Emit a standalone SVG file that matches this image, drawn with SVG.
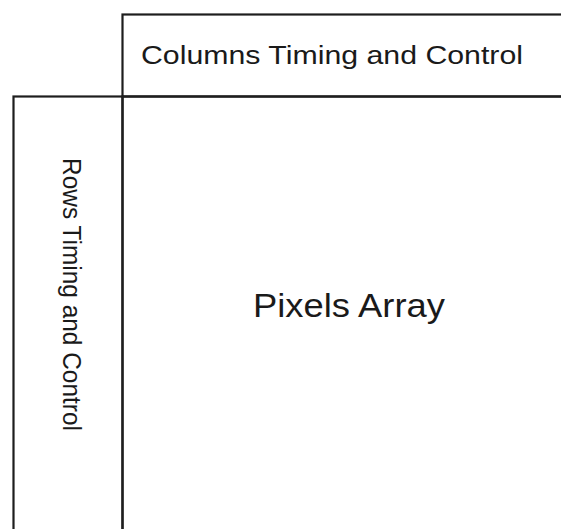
<svg xmlns="http://www.w3.org/2000/svg" width="561" height="529" viewBox="0 0 561 529">
<style>
.box{fill:none;stroke:#1e1e1e;stroke-width:2.2}
.lbl{font-family:"Liberation Sans",Arial,sans-serif;fill:#1a1a1a}
</style>
<rect width="561" height="529" fill="#ffffff"/>
<g id="pixels-array">
<rect class="box" x="122.5" y="96.5" width="460" height="450"/>
<text class="lbl" x="253" y="317" font-size="34" textLength="192" lengthAdjust="spacingAndGlyphs">Pixels Array</text>
</g>
<g id="columns-timing">
<rect class="box" x="122.5" y="14.5" width="460" height="82"/>
<text class="lbl" x="141" y="64" font-size="26.5" textLength="382" lengthAdjust="spacingAndGlyphs">Columns Timing and Control</text>
</g>
<g id="rows-timing">
<rect class="box" x="13.5" y="96.5" width="109" height="450"/>
<text class="lbl" transform="translate(63,158) rotate(90)" x="0" y="0" font-size="26.5" textLength="273" lengthAdjust="spacingAndGlyphs">Rows Timing and Control</text>
</g>
<g id="connectors"></g>
</svg>
